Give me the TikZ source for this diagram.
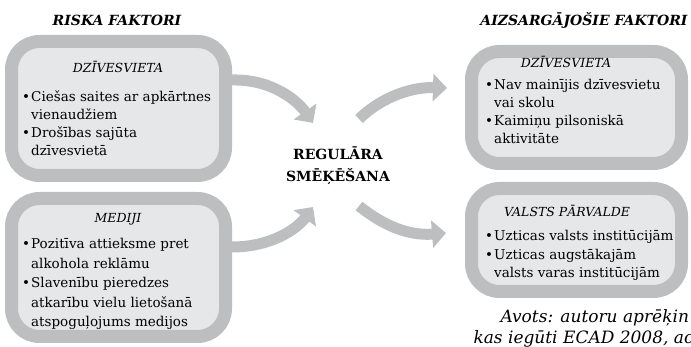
\documentclass[tikz,border=0pt]{standalone}
\usepackage{fontspec}
\setmainfont{DejaVu Serif}
\usetikzlibrary{calc,arrows.meta}
\definecolor{ringgray}{HTML}{BCBEC0}
\definecolor{fillgray}{HTML}{E6E7E8}
\newcommand{\bul}{\strut\makebox[9pt][l]{\textbullet}}
\newcommand{\ind}{\hspace*{9pt}}
\tikzset{
  box/.style={draw=ringgray, fill=fillgray, line width=13pt, rounded corners=28pt, inner sep=0pt},
  flow/.style={draw=ringgray, line width=11pt, -{Triangle[length=14pt,width=27pt]}},
  title/.style={font=\fontsize{14}{17}\selectfont\bfseries\itshape, anchor=base},
  head/.style={font=\fontsize{12.5}{15}\selectfont\itshape, anchor=base},
  body/.style={font=\fontsize{13.5}{18}\selectfont, align=left, anchor=north west, inner sep=0pt},
  source/.style={font=\fontsize{17}{22}\selectfont\itshape, anchor=base west},
}
\begin{document}
\begin{tikzpicture}[x=1pt, y=-1pt]
        \useasboundingbox (0,0) rectangle (691,347);
        \clip (0,0) rectangle (691,347);
        \node[box, minimum width=214pt, minimum height=134pt] (risk1) at (118.5,108.5) {};
        \node[box, minimum width=214pt, minimum height=138pt] (risk2) at (118.5,267.5) {};
        \node[box, minimum width=210pt, minimum height=112pt] (prot1) at (576.5,107.5) {};
        \node[box, minimum width=210pt, minimum height=103pt] (prot2) at (576.5,240) {};
        \node[title] (riskt) at (117,25.5) {RISKA FAKTORI};
        \node[title] (prott) at (584,25.5) {AIZSARGĀJOŠIE FAKTORI};
        \node[font=\fontsize{14}{22}\selectfont\bfseries, align=center] (smek) at (338,166) {REGULĀRA\\SMĒĶĒŠANA};
        \node[head] (risk1h) at (118,72.5) {DZĪVESVIETA};
        \node[body] (risk1b) at (22,88.9) {\bul Ciešas saites ar apkārtnes\\ \ind vienaudžiem\\ \bul Drošības sajūta\\ \ind dzīvesvietā};
        \node[head] (risk2h) at (118,222.5) {MEDIJI};
        \node[body, font=\fontsize{13.5}{19.5}\selectfont] (risk2b) at (22,234.9) {\bul Pozitīva attieksme pret\\ \ind alkohola reklāmu\\ \bul Slavenību pieredzes\\ \ind atkarību vielu lietošanā\\ \ind atspoguļojums medijos};
        \node[head] (prot1h) at (566,67.5) {DZĪVESVIETA};
        \node[body] (prot1b) at (485,76.9) {\bul Nav mainījis dzīvesvietu\\ \ind vai skolu\\ \bul Kaimiņu pilsoniskā\\ \ind aktivitāte};
        \node[head] (prot2h) at (567,216.5) {VALSTS PĀRVALDE};
        \node[body, font=\fontsize{13.5}{18.5}\selectfont] (prot2b) at (485,227.5) {\bul Uzticas valsts institūcijām\\ \bul Uzticas augstākajām\\ \ind valsts varas institūcijām};
        \coordinate (s1) at ($(risk1.east)+(0,-28.5)$);
        \coordinate (s2) at ($(risk2.east)+(0,-20.5)$);
        \coordinate (e1) at ($(smek)+(-25,-43)$);
        \coordinate (e2) at ($(smek)+(-25,41)$);
        \coordinate (s3) at ($(smek)+(21,-47)$);
        \coordinate (s4) at ($(smek)+(21,40)$);
        \coordinate (e3) at ($(prot1.west)+(-18,-19.5)$);
        \coordinate (e4) at ($(prot2.west)+(-19,-7)$);
        \draw[flow] (s1) .. controls ($(s1)+(39,-1)$) and ($(e1)+(-16,-23)$) .. (e1);
        \draw[flow] (s2) .. controls ($(s2)+(39,0)$) and ($(e2)+(-16,22)$) .. (e2);
        \draw[flow] (s3) .. controls ($(s3)+(25,-24)$) and ($(e3)+(-33,-1)$) .. (e3);
        \draw[flow] (s4) .. controls ($(s4)+(25,20)$) and ($(e4)+(-37,3)$) .. (e4);
        \node[source] (src1) at (497,323) {Avots: autoru aprēķin};
        \node[source] (src2) at (470,344) {kas iegūti ECAD 2008, ac};
\end{tikzpicture}
\end{document}
